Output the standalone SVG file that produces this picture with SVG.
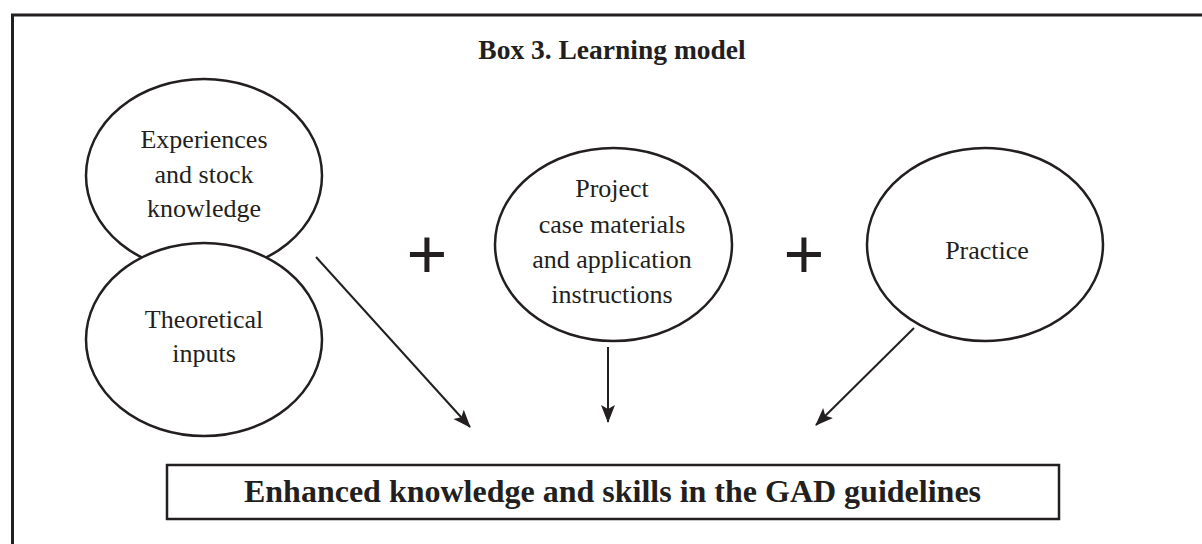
<svg xmlns="http://www.w3.org/2000/svg" width="1202" height="544" viewBox="0 0 1202 544">
<defs>
<style>
.node{fill:#fff;stroke:#231f20;stroke-width:2.5}
.lbl{font-family:"Liberation Serif",serif;font-size:26px;fill:#231f20;text-anchor:middle}
.bold{font-family:"Liberation Serif",serif;font-weight:bold;fill:#231f20;text-anchor:middle}
.plus{font-family:"Liberation Sans",sans-serif;font-size:70px;fill:#231f20;text-anchor:middle}
.conn{stroke:#231f20;stroke-width:2;fill:none;marker-end:url(#ah)}
</style>
<marker id="ah" markerUnits="userSpaceOnUse" markerWidth="20" markerHeight="16" refX="17" refY="7" orient="auto">
<path d="M0,0 L18,7 L0,14 L4,7 z" fill="#231f20"/>
</marker>
</defs>
<rect id="frame" x="12.5" y="15" width="1210" height="560" fill="#fff" stroke="#231f20" stroke-width="3"/>
<text id="title" class="bold" x="612" y="59" font-size="27.5">Box 3. Learning model</text>
<g id="experiences">
<ellipse class="node" cx="204" cy="175.5" rx="118" ry="96.5"/>
<text class="lbl" x="204" y="148">Experiences</text>
<text class="lbl" x="204" y="183">and stock</text>
<text class="lbl" x="204" y="217">knowledge</text>
</g>
<g id="theoretical">
<ellipse class="node" cx="204" cy="339.5" rx="118" ry="96.5"/>
<text class="lbl" x="204" y="328">Theoretical</text>
<text class="lbl" x="204" y="362">inputs</text>
</g>
<g id="project">
<ellipse class="node" cx="613.5" cy="244.5" rx="118.5" ry="96.5"/>
<text class="lbl" x="612" y="197">Project</text>
<text class="lbl" x="612" y="233">case materials</text>
<text class="lbl" x="612" y="268">and application</text>
<text class="lbl" x="612" y="303">instructions</text>
</g>
<g id="practice">
<ellipse class="node" cx="985" cy="244.5" rx="118" ry="96.5"/>
<text class="lbl" x="987" y="259">Practice</text>
</g>
<text id="plus1" class="plus" x="427" y="278">+</text>
<text id="plus2" class="plus" x="804" y="278">+</text>
<g id="outcome">
<rect class="node" x="167" y="465" width="892" height="54"/>
<text class="bold" x="612.5" y="502" font-size="32">Enhanced knowledge and skills in the GAD guidelines</text>
</g>
<g id="connectors">
<line class="conn" x1="316" y1="257" x2="470" y2="427"/>
<line class="conn" x1="608" y1="347" x2="608" y2="422"/>
<line class="conn" x1="914" y1="328" x2="816" y2="425"/>
</g>
</svg>
